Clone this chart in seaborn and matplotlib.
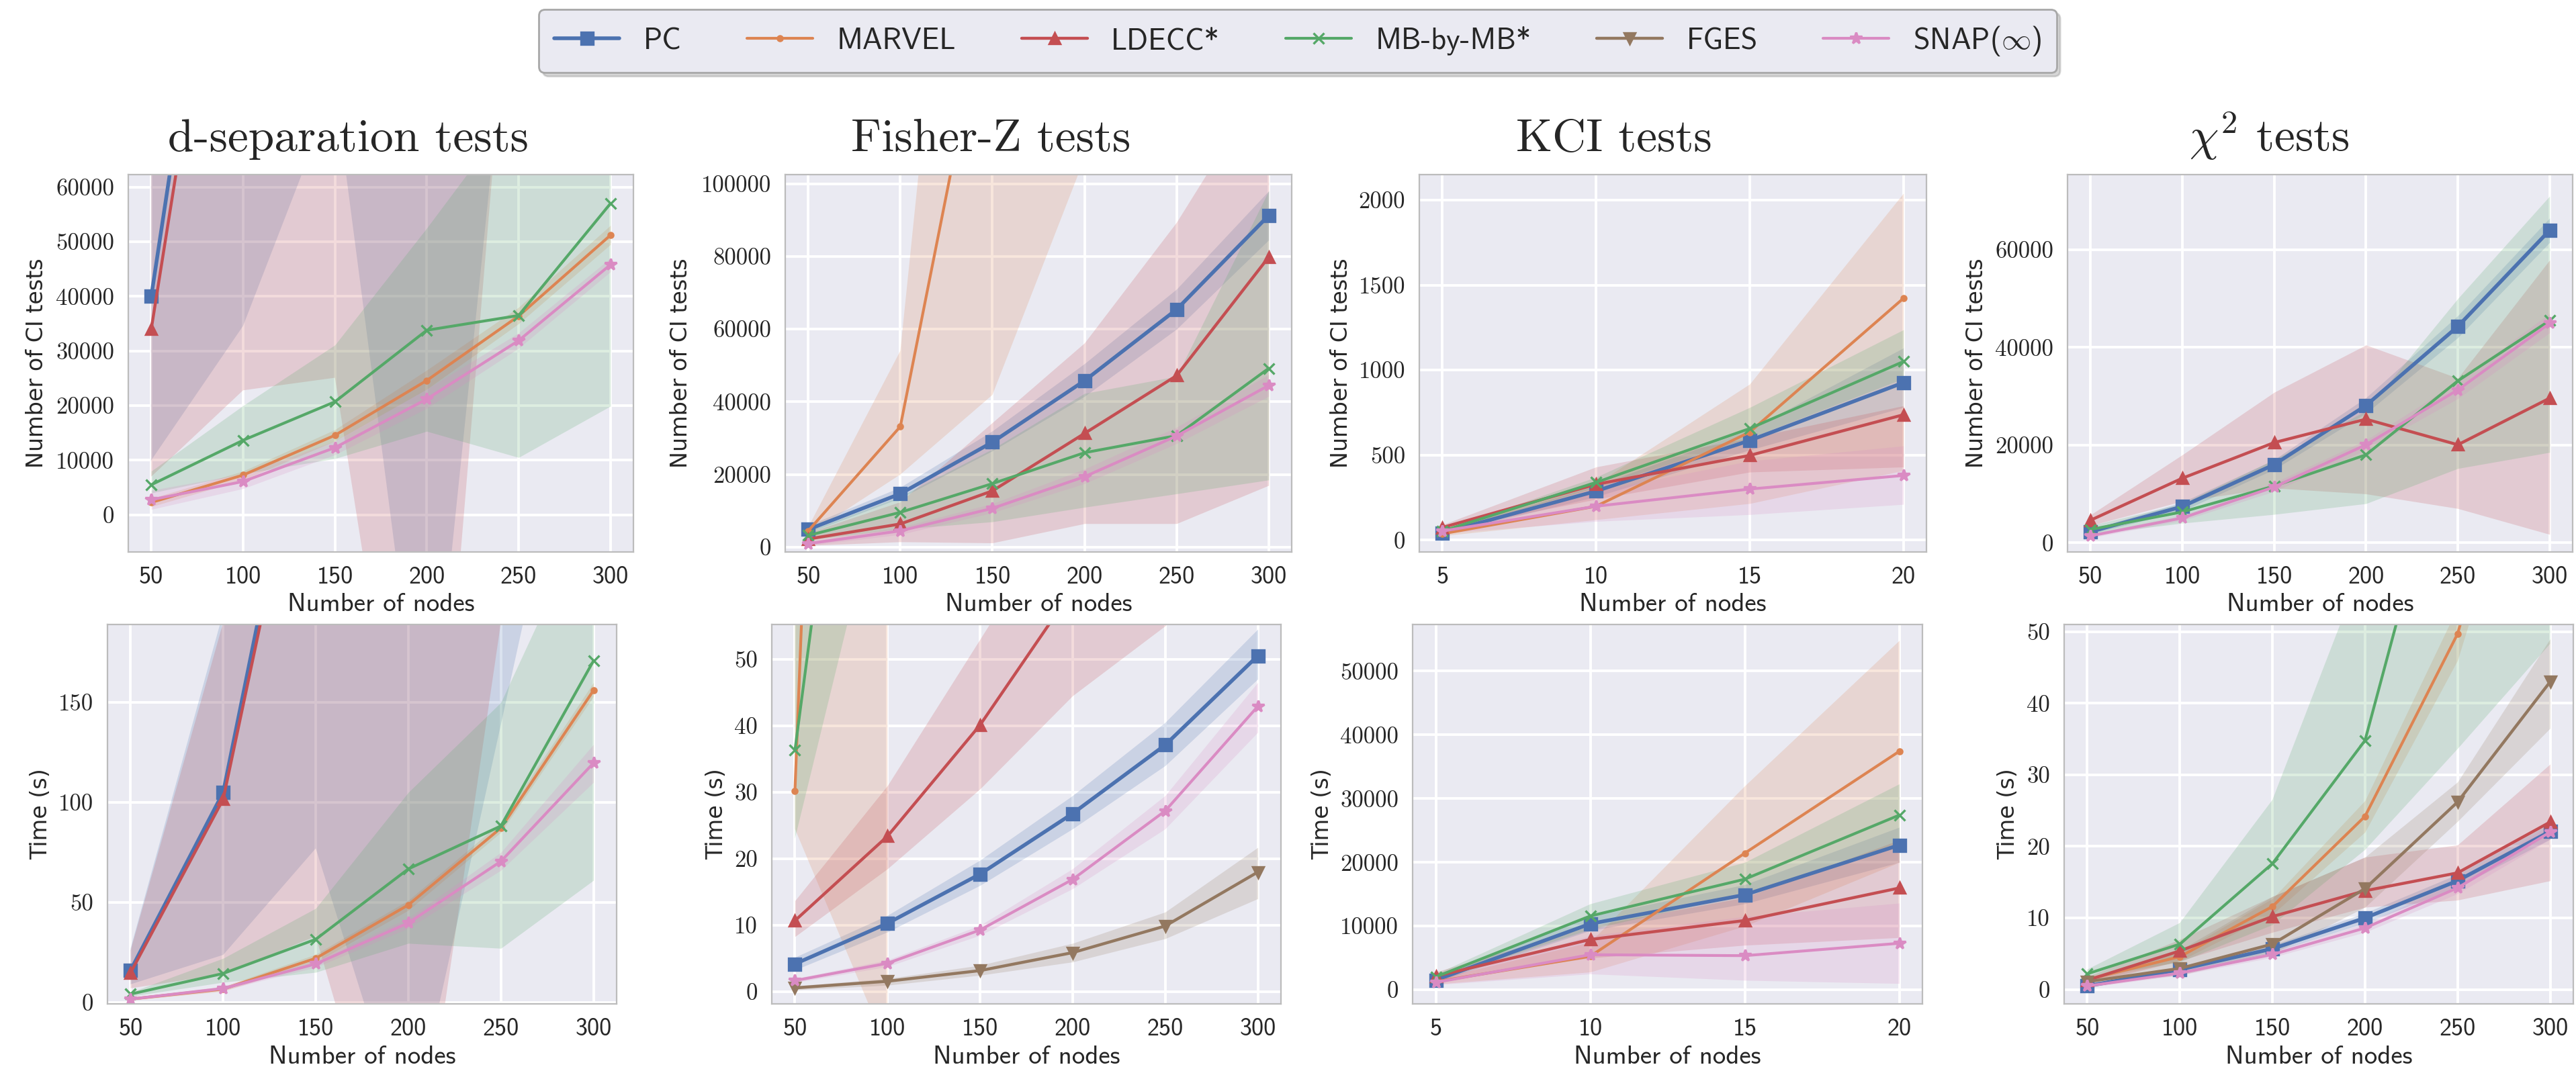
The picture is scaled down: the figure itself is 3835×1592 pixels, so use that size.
import numpy as np
import matplotlib
matplotlib.use("Agg")
import matplotlib.pyplot as plt
from matplotlib.lines import Line2D
import seaborn as sns

nan = np.nan

# --- x values ---
nodes = [50, 100, 150, 200, 250, 300]
kci_nodes = [5, 10, 15, 20]

# --- d-separation: number of CI tests ---
dsep_tests_mean = {
    "PC": [40000, 151000, 330000, 560000, 800000, 1100000],
    "MARVEL": [2260, 7280, 14560, 24600, 36400, 51200],
    "LDECC": [34000, 139600, 300000, 500000, 750000, 1000000],
    "MB": [5500, 13650, 20700, 33800, 36500, 57000],
    "SNAP": [2760, 6100, 12300, 21200, 31900, 45800],
}
dsep_tests_lo = {
    "PC": [10000, 34600, 78000, -51000, 112000, 300000],
    "MARVEL": [1500, 6400, 13500, 23000, 35000, 49500],
    "LDECC": [7000, 22800, 25100, -81200, 120000, 300000],
    "MB": [4000, 7500, 10300, 15300, 10500, 19900],
    "SNAP": [1000, 4800, 11000, 19500, 30500, 44500],
}
dsep_tests_hi = {
    "PC": [90000, 300000, 600000, 1100000, 1500000, 2000000],
    "MARVEL": [3000, 8000, 15600, 26500, 38000, 53000],
    "LDECC": [80000, 280000, 600000, 1100000, 1500000, 2000000],
    "MB": [8000, 20000, 31100, 52500, 75000, 90000],
    "SNAP": [4500, 7500, 13500, 23000, 33300, 47000],
}

# --- d-separation: time ---
dsep_time_mean = {
    "PC": [16, 105, 333, 600, 900, 1300],
    "MARVEL": [1.6, 6.6, 22, 48.7, 87.2, 156],
    "LDECC": [14.8, 101.6, 320, 580, 880, 1250],
    "MB": [4.1, 14.4, 31.5, 66.7, 88.2, 170.8],
    "SNAP": [1.6, 6.9, 19.2, 39.7, 70.5, 119.7],
}
dsep_time_lo = {
    "PC": [9, 23.7, 77, -71, 139, 350],
    "MARVEL": [1.0, 5.5, 20, 46, 85, 153],
    "LDECC": [7, 14, 33, -126, 190, 300],
    "MB": [3, 10, 15, 29.5, 27, 61],
    "SNAP": [1.0, 6, 17.5, 37, 66, 110],
}
dsep_time_hi = {
    "PC": [27, 195, 700, 1300, 1700, 2300],
    "MARVEL": [2.3, 7.8, 24, 51, 90, 160],
    "LDECC": [26, 190, 680, 1300, 1700, 2300],
    "MB": [5, 22, 47, 105, 150, 250],
    "SNAP": [2.3, 8, 21, 42, 75, 129],
}

# --- Fisher-Z: number of CI tests ---
fz_tests_mean = {
    "PC": [4900, 14700, 28900, 45800, 65400, 91250],
    "MARVEL": [4500, 33200, 160600, 320000, 500000, 700000],
    "LDECC": [2260, 6400, 15500, 31300, 47200, 79800],
    "MB": [3250, 9600, 17500, 26000, 30700, 49200],
    "SNAP": [1000, 4500, 10700, 19400, 30600, 44500],
}
fz_tests_lo = {
    "PC": [4000, 13500, 26500, 41500, 60000, 84500],
    "MARVEL": [3500, 20000, 41900, 107000, 150000, 200000],
    "LDECC": [500, 1500, 1200, 6500, 6500, 17000],
    "MB": [2000, 5000, 7000, 11000, 14700, 18500],
    "SNAP": [500, 3500, 9500, 17500, 28500, 41500],
}
fz_tests_hi = {
    "PC": [6000, 16500, 32000, 50500, 71000, 98000],
    "MARVEL": [5500, 54000, 300000, 600000, 900000, 1200000],
    "LDECC": [4000, 12500, 34300, 56200, 89400, 130000],
    "MB": [4500, 14000, 27000, 42300, 47000, 98000],
    "SNAP": [1500, 5500, 12000, 21500, 33000, 47500],
}

# --- Fisher-Z: time ---
fz_time_mean = {
    "PC": [4.2, 10.3, 17.7, 26.8, 37.1, 50.5],
    "MARVEL": [30.2, 387, nan, nan, nan, nan],
    "LDECC": [10.7, 23.4, 40.1, 60.4, 85, 110],
    "MB": [36.3, 142, 300, 500, 700, 900],
    "FGES": [0.6, 1.6, 3.2, 5.9, 9.9, 18.0],
    "SNAP": [1.7, 4.3, 9.3, 16.9, 27.2, 42.9],
}
fz_time_lo = {
    "PC": [3.3, 9, 16, 24.5, 34, 47],
    "MARVEL": [24.5, -8.6, nan, nan, nan, nan],
    "LDECC": [8.3, 18.5, 30.5, 44.5, 55, 70],
    "MB": [23, 80, 200, 350, 500, 700],
    "FGES": [0.3, 1.0, 2.5, 4.5, 8, 14],
    "SNAP": [1.4, 3.8, 8.5, 15.5, 24.5, 39],
}
fz_time_hi = {
    "PC": [5.2, 11.5, 19.8, 29.5, 40.5, 54.5],
    "MARVEL": [60, 800, nan, nan, nan, nan],
    "LDECC": [13.7, 31, 53, 75, 110, 150],
    "MB": [60, 250, 400, 650, 900, 1100],
    "FGES": [0.9, 2.0, 4.0, 7.3, 12, 21.7],
    "SNAP": [2.0, 4.8, 10, 18.5, 29.5, 46.5],
}

# --- KCI: number of CI tests ---
kci_tests_mean = {
    "PC": [42, 288, 586, 926],
    "MARVEL": [37, 199, 635, 1422],
    "LDECC": [74, 328, 498, 737],
    "MB": [53, 339, 656, 1050],
    "SNAP": [53, 199, 300, 380],
}
kci_tests_lo = {
    "PC": [35, 255, 530, 780],
    "MARVEL": [25, 120, 215, 409],
    "LDECC": [60, 240, 400, 430],
    "MB": [45, 310, 600, 950],
    "SNAP": [40, 110, 150, 210],
}
kci_tests_hi = {
    "PC": [50, 320, 650, 1130],
    "MARVEL": [50, 330, 918, 2040],
    "LDECC": [90, 430, 600, 790],
    "MB": [60, 370, 780, 1237],
    "SNAP": [65, 288, 465, 554],
}

# --- KCI: time ---
kci_time_mean = {
    "PC": [1530, 10360, 14900, 22700],
    "MARVEL": [1280, 5260, 21430, 37400],
    "LDECC": [2140, 7900, 10870, 15970],
    "MB": [2040, 11580, 17350, 27400],
    "SNAP": [1170, 5510, 5360, 7300],
}
kci_time_lo = {
    "PC": [1200, 9300, 13500, 20000],
    "MARVEL": [900, 2800, 10000, 20000],
    "LDECC": [1500, 5000, 7000, 8200],
    "MB": [1600, 9500, 15000, 22500],
    "SNAP": [800, 2500, 1500, 1000],
}
kci_time_hi = {
    "PC": [1900, 11500, 16500, 25500],
    "MARVEL": [1700, 7500, 32000, 54800],
    "LDECC": [2800, 10000, 14500, 23500],
    "MB": [2500, 13500, 20000, 32300],
    "SNAP": [1500, 8500, 11500, 13600],
}

# --- chi-square: number of CI tests ---
chi_tests_mean = {
    "PC": [2250, 7400, 16000, 28100, 44300, 64000],
    "LDECC": [4600, 13200, 20500, 25300, 20060, 29600],
    "MB": [2700, 6300, 11600, 18000, 33150, 45500],
    "SNAP": [1400, 5060, 11400, 20060, 31300, 44950],
}
chi_tests_lo = {
    "PC": [1800, 6500, 15000, 26500, 42000, 61500],
    "LDECC": [3500, 8500, 11200, 10000, 7000, 1700],
    "MB": [1700, 4000, 5800, 8000, 15200, 18500],
    "SNAP": [1000, 4500, 10500, 19000, 29500, 43000],
}
chi_tests_hi = {
    "PC": [2700, 8300, 17000, 29700, 46500, 66500],
    "LDECC": [5700, 18000, 30800, 40500, 33700, 57900],
    "MB": [3500, 8000, 17000, 27000, 50000, 71000],
    "SNAP": [1800, 5600, 12300, 21000, 33000, 47000],
}

# --- chi-square: time ---
chi_time_mean = {
    "PC": [0.5, 2.8, 5.7, 10.0, 15.2, 22.1],
    "MARVEL": [1.4, 4.6, 11.6, 24.2, 49.7, 95],
    "LDECC": [1.3, 5.4, 10.2, 13.8, 16.3, 23.4],
    "MB": [2.2, 6.35, 17.6, 34.8, 83, 130],
    "FGES": [1.1, 2.95, 6.35, 14.1, 26.2, 43.0],
    "SNAP": [0.5, 2.3, 4.9, 8.6, 14.2, 22.0],
}
chi_time_lo = {
    "PC": [0.3, 2.4, 5.2, 9.3, 14.3, 21.0],
    "MARVEL": [1.1, 4.0, 10.5, 22, 46, 88],
    "LDECC": [0.8, 4.0, 8.0, 11.5, 12.5, 15.2],
    "MB": [1.6, 3.8, 9.0, 19.5, 33.6, 48.3],
    "FGES": [0.8, 2.0, 5.0, 11.5, 23.5, 36.5],
    "SNAP": [0.3, 2.0, 4.5, 8.0, 13.4, 21.0],
}
chi_time_hi = {
    "PC": [0.7, 3.2, 6.2, 10.7, 16.1, 23.2],
    "MARVEL": [1.7, 5.2, 12.7, 26.4, 53.4, 102],
    "LDECC": [1.8, 7.0, 13.0, 18.5, 20.2, 31.5],
    "MB": [2.8, 9.3, 26.5, 60, 130, 200],
    "FGES": [1.5, 5.5, 13.0, 18.5, 29.0, 49.0],
    "SNAP": [0.7, 2.6, 5.3, 9.2, 15.0, 23.0],
}

titles = ["d-separation tests", "Fisher-Z tests", "KCI tests", r"$\chi^2$ tests"]

# --- style ---
sns.set_theme(style="darkgrid", palette="deep")
plt.rcParams["font.family"] = ["DejaVu Sans"]
plt.rcParams["mathtext.fontset"] = "cm"
plt.rcParams["axes.unicode_minus"] = False

deep = sns.color_palette("deep")
order = ["PC", "MARVEL", "LDECC", "MB", "FGES", "SNAP"]
labels = {"PC": "PC", "MARVEL": "MARVEL", "LDECC": "LDECC*", "MB": "MB-by-MB*",
          "FGES": "FGES", "SNAP": r"SNAP($\infty$)"}
colors = {"PC": deep[0], "MARVEL": deep[1], "LDECC": deep[3], "MB": deep[2],
          "FGES": deep[5], "SNAP": deep[6]}
markers = {"PC": "s", "MARVEL": "o", "LDECC": "^", "MB": "x", "FGES": "v", "SNAP": "*"}
msizes = {"PC": 6.5, "MARVEL": 2.6, "LDECC": 5.5, "MB": 5.5, "FGES": 6, "SNAP": 6.5}
lwidths = {"PC": 2.0, "MARVEL": 1.5, "LDECC": 1.6, "MB": 1.5, "FGES": 1.6, "SNAP": 1.5}

W, H = 3835, 1592
fig = plt.figure(figsize=(W / 200, H / 200), dpi=200)

# panel specs: (x, mean, lo, hi, ylim, yticks, ylabel, left px, width px, row, ylabel x)
top_y, top_h = 822, 562
bot_y, bot_h = 1495, 565
panels = [
    (nodes, dsep_tests_mean, dsep_tests_lo, dsep_tests_hi, (-6800, 62300),
     range(0, 60001, 10000), "Number of CI tests", 191, 752, 0, -0.181),
    (nodes, fz_tests_mean, fz_tests_lo, fz_tests_hi, (-1300, 102500),
     range(0, 100001, 20000), "Number of CI tests", 1169, 754, 0, -0.206),
    (kci_nodes, kci_tests_mean, kci_tests_lo, kci_tests_hi, (-70, 2150),
     range(0, 2001, 500), "Number of CI tests", 2113, 755, 0, -0.154),
    (nodes, chi_tests_mean, chi_tests_lo, chi_tests_hi, (-1900, 75400),
     range(0, 60001, 20000), "Number of CI tests", 3078, 752, 0, -0.180),
    (nodes, dsep_time_mean, dsep_time_lo, dsep_time_hi, (-0.8, 189),
     range(0, 151, 50), "Time (s)", 160, 758, 1, -0.131),
    (nodes, fz_time_mean, fz_time_lo, fz_time_hi, (-1.8, 55.2),
     range(0, 51, 10), "Time (s)", 1149, 758, 1, -0.109),
    (kci_nodes, kci_time_mean, kci_time_lo, kci_time_hi, (-2200, 57300),
     range(0, 50001, 10000), "Time (s)", 2103, 759, 1, -0.177),
    (nodes, chi_time_mean, chi_time_lo, chi_time_hi, (-2, 51),
     range(0, 51, 10), "Time (s)", 3073, 758, 1, -0.110),
]

for x, mean, lo, hi, ylim, yticks, ylabel, left, width, row, ylx in panels:
    yb, hh = (top_y, top_h) if row == 0 else (bot_y, bot_h)
    ax = fig.add_axes([left / W, (H - yb) / H, width / W, hh / H])

    # bands first, then the mean lines on top
    for m in order:
        if m in mean:
            ax.fill_between(x, lo[m], hi[m], color=colors[m], alpha=0.2, lw=0)
    for m in order:
        if m in mean:
            sns.lineplot(x=x, y=mean[m], ax=ax, color=colors[m], marker=markers[m],
                         markersize=msizes[m], lw=lwidths[m], markeredgecolor=colors[m],
                         markeredgewidth=1.2, errorbar=None)

    span = x[-1] - x[0]
    ax.set_xlim(x[0] - 0.05 * span, x[-1] + 0.05 * span)
    ax.set_xticks(x)
    ax.set_ylim(*ylim)
    ax.set_yticks(list(yticks))
    ax.grid(True, color="white", lw=1.4)
    for s in ax.spines.values():
        s.set_visible(True)
        s.set_color("#bcbcbc")
        s.set_linewidth(0.8)
    ax.tick_params(axis="y", labelsize=12.5, labelfontfamily="cmr10", pad=7.5, length=0)
    ax.tick_params(axis="x", labelsize=13, labelfontfamily="cmss10", pad=7.5, length=0)
    ax.set_xlabel("Number of nodes", family="cmss10", fontsize=14, va="center")
    ax.xaxis.set_label_coords(0.5, -0.14)
    ax.set_ylabel(ylabel, fontsize=12, va="center", ha="center")
    ax.yaxis.set_label_coords(ylx, 0.5)

# column titles
for t, cx in zip(titles, [519, 1475, 2403, 3378]):
    fig.text(cx / W, 1 - 225 / H, t, family="cmr10", fontsize=25, ha="center", va="baseline")

# shared legend
handles = [Line2D([], [], color=colors[m], marker=markers[m], markersize=msizes[m],
                  lw=lwidths[m], markeredgecolor=colors[m], markeredgewidth=1.2)
           for m in order]
leg = fig.legend(handles, [labels[m] for m in order], loc="center",
                 bbox_to_anchor=(1932 / W, 1 - 61 / H), ncol=6,
                 prop={"family": "cmss10", "size": 16}, frameon=True, fancybox=True,
                 facecolor="#EAEAF2", edgecolor="#a8a8a8", framealpha=1,
                 handlelength=2.2, handletextpad=0.8, columnspacing=2.2, borderpad=0.5,
                 shadow={"color": "0.6", "alpha": 0.4})

fig.savefig("out.png", dpi=200)
print("saved out.png")
